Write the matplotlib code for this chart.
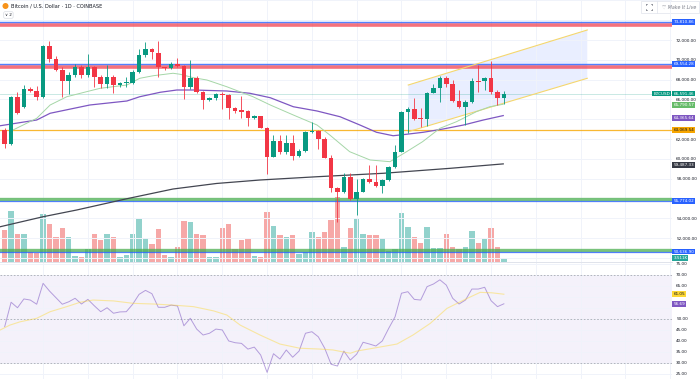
import numpy as np
import matplotlib
matplotlib.use("Agg")
import matplotlib.pyplot as plt
import matplotlib.transforms as mtransforms
from matplotlib.patches import Ellipse, Rectangle
from matplotlib.lines import Line2D

# ---- data (daily candles, index 0..78) ----
opens = [62910, 61500, 66210, 65200, 67020, 66880, 66210, 71390, 70080, 69000,
         67890, 68500, 69270, 68430, 69300, 68290, 67560, 68290, 67420, 67690,
         67690, 68740, 70480, 71060, 70720, 69240, 69140, 69580, 69400, 67280,
         68190, 66720, 65940, 66140, 66580, 66440, 65100, 64900, 64830, 64090,
         64290, 63140, 60210, 61770, 60720, 61570, 60290, 60820, 62680, 62780,
         62000, 60110, 57020, 56620, 58190, 55940, 56680, 57960, 57690, 57280,
         57830, 59140, 60720, 64700, 65030, 64090, 64020, 66680, 67150, 68130,
         67560, 65870, 65260, 65770, 67890, 67860, 68190, 66720, 66180]
highs = [63100, 66340, 66720, 67450, 67280, 67380, 71500, 71900, 70410, 69240,
         68740, 69550, 69470, 70590, 69400, 68460, 69470, 68460, 67790, 68290,
         68970, 71090, 71770, 71160, 71900, 69310, 69810, 70150, 69470, 69980,
         68400, 66800, 66240, 66690, 66780, 66500, 65270, 66340, 64900, 64425,
         64360, 63210, 62410, 62410, 62410, 62410, 60960, 62810, 63750, 62910,
         62240, 60390, 57190, 58540, 58540, 58000, 58070, 59380, 59380, 57930,
         59280, 61400, 64790, 65270, 66110, 65100, 66780, 67530, 68390, 68390,
         67960, 66980, 65940, 68130, 69470, 68290, 69910, 66960, 66860]
lows = [61090, 61390, 64500, 65100, 66720, 65940, 66110, 69810, 68870, 66270,
        66520, 68290, 68130, 68290, 67250, 67180, 67180, 66620, 67280, 67280,
        67590, 68630, 70280, 70080, 68290, 68980, 69070, 69240, 66040, 67030,
        66600, 65030, 65870, 65940, 65030, 64020, 64660, 64090, 63340, 64020,
        63070, 58430, 60140, 60520, 60520, 59880, 60220, 60720, 62610, 60990,
        60050, 56680, 53600, 56550, 55840, 54330, 56610, 57590, 57120, 56520,
        57760, 59040, 60650, 62580, 63960, 63240, 63340, 66620, 65770, 67290,
        65770, 65160, 63410, 65670, 66780, 66950, 66520, 65430, 65500]
closes = [61500, 66210, 64660, 67020, 66880, 66210, 71390, 70080, 69000, 67890,
          68500, 69270, 68460, 69300, 68290, 67560, 68290, 67420, 67690, 67750,
          68740, 70480, 71060, 70750, 69240, 69140, 69580, 69400, 67280, 68190,
          66720, 65940, 66140, 66580, 66440, 65100, 64860, 64760, 64090, 64290,
          63140, 60210, 61770, 60720, 61570, 60290, 60820, 62680, 62810, 62000,
          60110, 57020, 56620, 58190, 55940, 56680, 57960, 57690, 57280, 57830,
          59140, 60720, 64700, 65030, 64020, 63990, 66620, 67150, 68130, 67560,
          65870, 65260, 65770, 67890, 67800, 68190, 66720, 66180, 66591.46]
volumes_k = [28, 45, 25, 25, 9, 8, 42, 33, 22, 30,
             22, 5, 4, 11, 25, 19, 25, 22, 4, 6,
             25, 38, 21, 16, 29, 6, 4, 13, 36, 35,
             25, 24, 4, 4, 30, 33, 11, 19, 20, 5,
             4, 44, 32, 24, 22, 24, 7, 9, 26, 22,
             26, 37, 57, 13, 30, 39, 25, 24, 24, 21,
             10, 11, 43, 31, 22, 17, 31, 12, 12, 25,
             13, 11, 13, 27, 17, 20, 30, 13, 3.511]

# moving averages (sampled at candle positions)
ma_fast_x = [1.3, 5, 7.1, 9.7, 12.8, 14.9, 19.1, 21.1, 23.2, 26.3, 27.4, 29.5, 31.6,
             34.7, 38.8, 41.5, 45.1, 48.8, 50.8, 53.9, 57.1, 60.2, 62.8, 65.3, 68,
             70.6, 73.7, 75.8, 77.9]
ma_fast = [62910, 64090, 65435, 66270, 66780, 67120, 67455, 68130, 68390, 68640,
           68540, 68190, 67960, 67280, 66270, 65435, 64425, 63415, 62405, 60720,
           59880, 59710, 60720, 61730, 63080, 63750, 64760, 65260, 65510]
ma_mid_x = [-0.7, 5, 7.1, 13.3, 19.1, 21.1, 24.3, 26.9, 29.5, 34.7, 38.3, 41.5, 45.1,
            48.8, 52.4, 55.5, 58.1, 60.7, 62.8, 65.4, 68.5, 71.7, 74.8, 77.9]
ma_mid = [63340, 63920, 64600, 65435, 65840, 66270, 66720, 66950, 66950, 66850,
          66620, 66170, 65260, 64830, 64250, 63415, 62680, 62330, 62480, 62680,
          63010, 63415, 63920, 64366]
ma_slow_x = [-0.7, 6.0, 11.25, 19.1, 26.3, 33.1, 39.9, 48.8, 59.2, 69.6, 77.9]
ma_slow = [53140, 54150, 54830, 55970, 56950, 57510, 57860, 58190, 58540, 59040, 59487]

rsi = [46.3, 57.4, 54.9, 58.9, 58.4, 56.5, 66.0, 62.5, 59.5, 56.5,
       57.6, 59.2, 56.6, 58.7, 55.8, 53.1, 54.9, 52.4, 53.0, 53.1,
       56.5, 61.0, 62.8, 61.3, 55.1, 55.1, 56.1, 55.7, 46.7, 50.1,
       45.2, 42.5, 43.3, 45.2, 44.8, 39.8, 39.0, 38.7, 36.1, 37.0,
       33.4, 25.5, 34.0, 31.6, 35.7, 32.4, 35.2, 43.3, 44.0, 41.7,
       36.5, 29.2, 28.4, 35.2, 31.1, 33.8, 39.2, 38.4, 37.5, 39.8,
       45.5, 50.8, 61.5, 62.2, 58.7, 58.4, 64.5, 65.7, 67.6, 65.2,
       59.2, 56.6, 58.4, 63.4, 63.4, 64.2, 58.1, 55.4, 56.69]
rsi_ma_x = [-0.7, 0.8, 2.4, 5, 7.1, 9.7, 11.8, 13.8, 17, 20.1, 23.2, 26.3, 29.5, 32.6,
            34.7, 36.8, 39.9, 43, 46.1, 49.3, 51.3, 54, 55, 57.6, 61.3, 63.8, 66.5,
            69.1, 72.3, 74.3, 76.1, 78]
rsi_ma = [44.8, 47.0, 48.5, 50.1, 53.1, 55.4, 57.4, 58.4, 58.0, 56.9, 56.6, 56.1, 55.4,
          53.5, 51.6, 47.0, 42.5, 38.4, 36.5, 36.1, 35.7, 34.2, 35.2, 36.5, 38.4, 42.5,
          47.8, 54.6, 59.2, 61.9, 61.7, 61.05]

# drawn channel (index, price)
chan_x = [63.06, 91.03]
chan_upper = [67455, 73010]
chan_lower = [62738, 68132]

# price / rsi scale ticks (labels hidden where a tag covers them)
price_ticks = list(range(50000, 76001, 2000))
price_hidden = [50000, 56000, 64000, 74000, 76000]
rsi_ticks = list(range(25, 76, 5))
rsi_hidden = [55, 60]

UP, DOWN = "#089981", "#f23645"

W, H = 700, 379
fig = plt.figure(figsize=(7, 3.79), dpi=100)
fig.patch.set_facecolor("white")


def fy(py):
    return 1 - py / H


PANE_W = 672 / W
ax = fig.add_axes([0, fy(262), PANE_W, 262 / H])
axr = fig.add_axes([0, 0, PANE_W, (H - 262) / H], sharex=ax)
axv = ax.twinx()
ax.set_zorder(axv.get_zorder() + 1)
ax.patch.set_visible(False)

x = np.arange(len(closes))
ax.set_xlim(-0.734, 104.27)
ax.set_ylim(49578, 76040)
axr.set_ylim(22.5, 75.7)
axv.set_ylim(0, 230)
axv.axis("off")

grid_c = "#f0f3fa"
for a in (ax, axr):
    a.set_xticks(np.arange(6, 105, 7))
    a.grid(True, color=grid_c, lw=0.7)
    a.tick_params(axis="x", length=0, labelbottom=False)
    a.yaxis.tick_right()
    a.tick_params(axis="y", length=0, labelsize=3, labelcolor="#131722", pad=3)
    for s in a.spines.values():
        s.set_visible(False)
axr.spines["top"].set_visible(True)
axr.spines["top"].set_color("#e0e3eb")
axr.spines["top"].set_linewidth(0.7)

ax.set_yticks(price_ticks)
ax.set_yticklabels(["" if v in price_hidden else f"{v:,.2f}" for v in price_ticks])
axr.set_yticks(rsi_ticks)
axr.set_yticklabels(["" if v in rsi_hidden else f"{v:.2f}" for v in rsi_ticks])

# volume
vcol = ["#26a69a" if c >= o else "#ef5350" for o, c in zip(opens, closes)]
axv.bar(x, volumes_k, width=0.86, color=vcol, alpha=0.5, linewidth=0)

# horizontal levels
ax.axhline(73560, color="#f23645", lw=2.6, alpha=0.7, zorder=2)
ax.axhline(73810.86, color="#2962ff", lw=1.0, alpha=0.8, zorder=2)
ax.axhline(69300, color="#f23645", lw=2.6, alpha=0.7, zorder=2)
ax.axhline(69554.28, color="#2962ff", lw=1.0, alpha=0.8, zorder=2)
ax.axhline(55971, color="#4caf50", lw=2.4, alpha=0.75, zorder=2)
ax.axhline(55774.02, color="#2962ff", lw=0.9, alpha=0.8, zorder=2)
ax.axhline(50840, color="#4caf50", lw=2.4, alpha=0.75, zorder=2)
ax.axhline(50636.90, color="#2962ff", lw=0.9, alpha=0.8, zorder=2)
ax.axhline(62940, color="#f7a600", lw=0.9, alpha=0.8, zorder=2)
ax.axhline(closes[-1], color=UP, lw=0.6, alpha=0.25, zorder=2)

# channel
ax.fill([chan_x[0], chan_x[1], chan_x[1], chan_x[0]],
        [chan_upper[0], chan_upper[1], chan_lower[1], chan_lower[0]],
        color="#2962ff", alpha=0.1, lw=0, zorder=1)
ax.plot(chan_x, chan_upper, color="#f5d76e", lw=0.8, zorder=2)
ax.plot(chan_x, chan_lower, color="#f5d76e", lw=0.8, zorder=2)

# moving averages
ax.plot(ma_slow_x, ma_slow, color="#434651", lw=0.9, zorder=3)
ax.plot(ma_mid_x, ma_mid, color="#7e57c2", lw=0.9, zorder=3)
ax.plot(ma_fast_x, ma_fast, color="#a5d6a7", lw=0.7, zorder=3)

# candles
cols = [UP if c >= o else DOWN for o, c in zip(opens, closes)]
ax.vlines(x, lows, highs, colors=cols, lw=0.6, zorder=4)
bottoms = np.minimum(opens, closes)
heights = np.maximum(np.abs(np.array(closes) - np.array(opens)), 80)
ax.bar(x, heights, bottom=bottoms, width=0.7, color=cols, lw=0, zorder=5)

# RSI pane
axr.axhspan(30, 70, color="#7e57c2", alpha=0.08, lw=0)
for lv in (70, 50, 30):
    axr.axhline(lv, color="#9598a1", lw=0.6, ls=(0, (2, 2)), alpha=0.8)
axr.plot(x, rsi, color="#7e57c2", lw=0.7, alpha=0.55)
axr.plot(rsi_ma_x, rsi_ma, color="#fdd835", lw=0.8, alpha=0.45)


# value tags on the scale
def tag(a, yval, text, fc, tc="white", xpos=1.002):
    tr = mtransforms.blended_transform_factory(a.transAxes, a.transData)
    a.text(xpos, yval, text, transform=tr, fontsize=3, color=tc, ha="left",
           va="center", clip_on=False, zorder=10,
           bbox=dict(boxstyle="square,pad=0.22", fc=fc, ec="none"))


tag(ax, 73810.86, "73,810.86", "#2962ff")
tag(ax, 69554.28, "69,554.28", "#2962ff")
tag(ax, 66591.46, "66,591.46", UP)
tag(ax, 66591.46, "BTCUSD", UP, xpos=0.972)
tag(ax, 65435, "65,790.57", "#66bb6a")
tag(ax, 64120, "64,365.64", "#7e57c2")
tag(ax, 62910, "63,069.54", "#f7a600", tc="#131722")
tag(ax, 59400, "59,487.33", "#363a45")
tag(ax, 55774.02, "55,774.02", "#2962ff")
tag(ax, 50636.90, "50,636.90", "#2962ff")
tag(ax, 49950, "3.511K", "#26a69a")
tag(axr, 61.05, "61.05", "#fdd835", tc="#131722")
tag(axr, 56.69, "56.69", "#7e57c2")

# header
fig.add_artist(Ellipse((5.5 / W, fy(6)), 6 / W, 6 / H, transform=fig.transFigure,
                       fc="#f7931a", ec="none"))
fig.text(11 / W, fy(6), "Bitcoin / U.S. Dollar · 1D · COINBASE", fontsize=3.6,
         color="#131722", va="center")
fig.text(5 / W, fy(15), "∨ 2", fontsize=3, color="#131722", va="center",
         bbox=dict(boxstyle="round,pad=0.3", fc="white", ec="#d1d4dc", lw=0.4))
fig.add_artist(Rectangle((641 / W, fy(13)), 58 / W, 12 / H, transform=fig.transFigure,
                         fc="white", ec="#e0e3eb", lw=0.5))
fig.add_artist(Line2D([657 / W, 657 / W], [fy(1), fy(13)], transform=fig.transFigure,
                      color="#e0e3eb", lw=0.5))
fig.text(662 / W, fy(7), "♡ Make It Live", fontsize=3.4, color="#787b86",
         va="center", style="italic")
# expand icon drawn as four small corners
cx, cy, s, k = 649, 7, 3, 1.4
for dx, dy in ((-1, -1), (1, -1), (-1, 1), (1, 1)):
    px, py = cx + dx * s, cy + dy * s
    fig.add_artist(Line2D([px / W, (px - dx * k) / W], [fy(py), fy(py)],
                          transform=fig.transFigure, color="#787b86", lw=0.5))
    fig.add_artist(Line2D([px / W, px / W], [fy(py), fy(py - dy * k)],
                          transform=fig.transFigure, color="#787b86", lw=0.5))

fig.savefig("out.png", dpi=100)
